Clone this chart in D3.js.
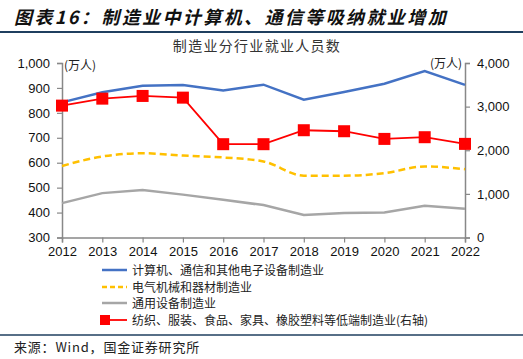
<!DOCTYPE html>
<html><head><meta charset="utf-8">
<script src="https://cdn.jsdelivr.net/npm/d3@7/dist/d3.min.js"></script>
<style>body{margin:0;background:#fff}svg{display:block}</style>
</head><body><svg id="c" width="523" height="359"></svg>
<script>
const years = [2012,2013,2014,2015,2016,2017,2018,2019,2020,2021,2022];
const computer = [842,883,909,912,890,913,853,884,917,968,912];
const electrical = [587,625,638,629,621,605,548,548,558,585,574];
const general = [438,478,491,472,451,430,390,398,400,427,415];
const lowEnd = [3023,3183,3245,3206,2139,2139,2459,2436,2260,2299,2146];
const leftTicks = [300,400,500,600,700,800,900,1000];
const rightTicks = [0,1000,2000,3000,4000];
const seriesNames = ["计算机、通信和其他电子设备制造业","电气机械和器材制造业","通用设备制造业","纺织、服装、食品、家具、橡胶塑料等低端制造业(右轴)"];

const svg = d3.select("#c");
const L=62, R=465, T=63, B=237.5;
const x = d3.scaleLinear().domain([2012,2022]).range([L,R]);
const yL = d3.scaleLinear().domain([300,1000]).range([B,T]);
const yR = d3.scaleLinear().domain([0,4000]).range([B,T]);
const axisCol="#888";
const font="'Liberation Sans', Arial, sans-serif";
const cjk="'Noto Sans CJK SC', sans-serif";

// header
svg.append("text").attr("x",14).attr("y",24).attr("font-family",cjk).attr("font-size",18)
  .attr("font-weight","bold").attr("font-style","italic").attr("fill","#111")
  .attr("letter-spacing",2.4).text("图表16：制造业中计算机、通信等吸纳就业增加");
svg.append("line").attr("x1",0).attr("x2",523).attr("y1",32).attr("y2",32).attr("stroke","#1f3f5f").attr("stroke-width",2);
svg.append("line").attr("x1",0).attr("x2",523).attr("y1",335).attr("y2",335).attr("stroke","#1f3f5f").attr("stroke-width",1.5);
svg.append("text").attr("x",14).attr("y",352).attr("font-family",cjk).attr("font-size",13).attr("letter-spacing",0.8).attr("fill","#222").text("来源：Wind，国金证券研究所");

svg.append("text").attr("x",257).attr("y",51).attr("text-anchor","middle").attr("font-family",cjk).attr("font-size",14).attr("letter-spacing",1.3).attr("fill","#333").text("制造业分行业就业人员数");

// axes
const gL = svg.append("g").attr("transform",`translate(${L},0)`).call(d3.axisLeft(yL).tickValues(leftTicks).tickSize(5).tickFormat(d3.format(",")));
const gR = svg.append("g").attr("transform",`translate(${R},0)`).call(d3.axisRight(yR).tickValues(rightTicks).tickSize(5).tickFormat(d3.format(",")));
const gX = svg.append("g").attr("transform",`translate(0,${B})`).call(d3.axisBottom(x).tickValues(years).tickSize(5).tickFormat(d3.format("d")));
[gL,gR,gX].forEach(g=>{
  g.select(".domain").attr("stroke",axisCol).attr("stroke-width",1.5);
  g.selectAll(".tick line").attr("stroke",axisCol).attr("stroke-width",1.2);
  g.selectAll(".tick text").attr("font-family",font).attr("font-size",13).attr("fill","#111");
});
gL.selectAll(".tick text").attr("x",-12);
gR.selectAll(".tick text").attr("x",12);
gX.selectAll(".tick text").attr("y",9);

svg.append("text").attr("x",64).attr("y",70).attr("font-family",cjk).attr("font-size",12).attr("fill","#222").text("(万人)");
svg.append("text").attr("x",462).attr("y",68).attr("text-anchor","end").attr("font-family",cjk).attr("font-size",12).attr("fill","#222").text("(万人)");

// lines
const lineL = d3.line().x((d,i)=>x(years[i])).y(d=>yL(d));
const lineLs = d3.line().x((d,i)=>x(years[i])).y(d=>yL(d)).curve(d3.curveMonotoneX);
const lineR = d3.line().x((d,i)=>x(years[i])).y(d=>yR(d));
svg.append("path").attr("d",lineL(general)).attr("fill","none").attr("stroke","#a6a6a6").attr("stroke-width",2.5);
svg.append("path").attr("d",lineLs(electrical)).attr("fill","none").attr("stroke","#ffc000").attr("stroke-width",2.5).attr("stroke-dasharray","7,4");
svg.append("path").attr("d",lineL(computer)).attr("fill","none").attr("stroke","#4472c4").attr("stroke-width",2.5);
svg.append("path").attr("d",lineR(lowEnd)).attr("fill","none").attr("stroke","#ff0000").attr("stroke-width",1.8);
svg.selectAll("rect.m").data(lowEnd).enter().append("rect").attr("class","m")
  .attr("x",(d,i)=>x(years[i])-6).attr("y",d=>yR(d)-6).attr("width",12).attr("height",12).attr("fill","#ff0000");

// legend
const ly=[270,287,303,320];
const styles=[{c:"#4472c4",dash:null},{c:"#ffc000",dash:"5,3"},{c:"#a6a6a6",dash:null},{c:"#ff0000",dash:null}];
seriesNames.forEach((n,i)=>{
  const g=svg.append("g");
  g.append("line").attr("x1",102).attr("x2",127).attr("y1",ly[i]).attr("y2",ly[i]).attr("stroke",styles[i].c).attr("stroke-width",i==3?1.8:2.5).attr("stroke-dasharray",styles[i].dash);
  if(i==3) g.append("rect").attr("x",100).attr("y",ly[i]-5).attr("width",10).attr("height",10).attr("fill","#ff0000");
  g.append("text").attr("x",132).attr("y",ly[i]+4.5).attr("font-family",cjk).attr("font-size",12).attr("fill","#222").text(n);
});
</script></body></html>
